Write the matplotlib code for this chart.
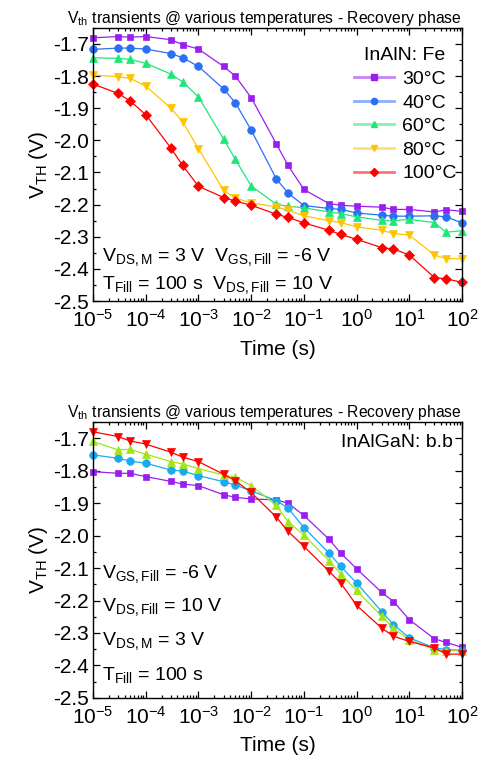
import numpy as np
import matplotlib
matplotlib.use("Agg")
import matplotlib.pyplot as plt
from matplotlib.lines import Line2D
from matplotlib.ticker import LogLocator, LogFormatterMathtext, MultipleLocator, NullFormatter
from matplotlib.colors import to_rgb

plt.rcParams['font.family'] = ['Liberation Sans', 'DejaVu Sans']
plt.rcParams['mathtext.fontset'] = 'custom'
plt.rcParams['mathtext.rm'] = 'Liberation Sans'
plt.rcParams['mathtext.it'] = 'Liberation Sans:italic'
plt.rcParams['mathtext.bf'] = 'Liberation Sans:bold'
plt.rcParams['axes.unicode_minus'] = False

# ---------------- data ----------------
time_s = [1e-5, 3e-5, 5e-5, 1e-4, 3e-4, 5e-4, 1e-3, 3e-3, 5e-3, 1e-2, 3e-2, 5e-2,
          1e-1, 3e-1, 5e-1, 1, 3, 5, 10, 30, 50, 100]

temps = ['30°C', '40°C', '60°C', '80°C', '100°C']

# Top panel: InAlN: Fe
top_30 = [-1.681, -1.677, -1.679, -1.677, -1.687, -1.702, -1.716, -1.770, -1.800, -1.867, -2.011, -2.078,
          -2.153, -2.197, -2.202, -2.205, -2.208, -2.215, -2.215, -2.223, -2.216, -2.221]
top_40 = [-1.717, -1.713, -1.713, -1.716, -1.730, -1.743, -1.770, -1.840, -1.883, -1.968, -2.120, -2.164,
          -2.203, -2.212, -2.215, -2.226, -2.233, -2.236, -2.236, -2.235, -2.238, -2.257]
top_60 = [-1.743, -1.745, -1.748, -1.760, -1.794, -1.818, -1.865, -1.996, -2.059, -2.142, -2.199, -2.205,
          -2.210, -2.223, -2.228, -2.238, -2.249, -2.250, -2.246, -2.256, -2.286, -2.281]
top_80 = [-1.797, -1.802, -1.807, -1.831, -1.900, -1.942, -2.026, -2.156, -2.179, -2.195, -2.207, -2.218,
          -2.235, -2.250, -2.256, -2.269, -2.280, -2.290, -2.295, -2.357, -2.368, -2.369]
top_100 = [-1.825, -1.854, -1.877, -1.920, -2.024, -2.078, -2.143, -2.178, -2.189, -2.202, -2.230, -2.240,
           -2.257, -2.280, -2.293, -2.308, -2.334, -2.338, -2.357, -2.427, -2.431, -2.442]

# Bottom panel: InAlGaN: b.b
bot_30 = [-1.803, -1.808, -1.808, -1.818, -1.833, -1.841, -1.846, -1.874, -1.882, -1.887, -1.890, -1.900,
          -1.938, -2.011, -2.054, -2.102, -2.175, -2.203, -2.259, -2.318, -2.329, -2.344]
bot_40 = [-1.751, -1.762, -1.770, -1.777, -1.798, -1.801, -1.815, -1.834, -1.844, -1.862, -1.892, -1.915,
          -1.975, -2.054, -2.095, -2.146, -2.234, -2.274, -2.315, -2.346, -2.351, -2.353]
bot_60 = [-1.710, -1.736, -1.734, -1.749, -1.772, -1.779, -1.794, -1.813, -1.820, -1.846, -1.907, -1.957,
          -1.998, -2.077, -2.118, -2.169, -2.249, -2.285, -2.321, -2.351, -2.355, -2.355]
bot_100 = [-1.680, -1.695, -1.708, -1.718, -1.743, -1.758, -1.772, -1.811, -1.831, -1.867, -1.943, -1.987,
           -2.033, -2.110, -2.146, -2.215, -2.285, -2.310, -2.326, -2.346, -2.365, -2.365]

top_series = [top_30, top_40, top_60, top_80, top_100]
top_colors = ['#9B1EF0', '#2B6FF5', '#1EE678', '#FFC400', '#FF0000']
top_markers = ['s', 'o', '^', 'v', 'D']
top_msizes = [5, 5.5, 5.5, 5.5, 5]

bot_series = [bot_30, bot_40, bot_60, bot_100]
bot_colors = ['#9B1EF0', '#1AAAF0', '#A0E614', '#FF0000']
bot_markers = ['s', 'o', '^', 'v']
bot_msizes = [5, 5.5, 5.5, 5.5]

title = r'$\mathregular{V_{th}}$ transients @ various temperatures - Recovery phase'

fig = plt.figure(figsize=(4.78, 7.63), dpi=100)
ax1 = fig.add_axes([0.1946, 0.6055, 0.772, 0.358])
ax2 = fig.add_axes([0.1946, 0.0853, 0.772, 0.3616])


def style_axis(ax):
    ax.set_xscale('log')
    ax.set_xlim(1e-5, 1e2)
    ax.set_ylim(-2.5, -1.65)
    ax.xaxis.set_major_locator(LogLocator(base=10, numticks=20))
    ax.xaxis.set_minor_locator(LogLocator(base=10, subs=np.arange(2, 10), numticks=20))
    ax.xaxis.set_major_formatter(LogFormatterMathtext())
    ax.xaxis.set_minor_formatter(NullFormatter())
    ax.yaxis.set_major_locator(MultipleLocator(0.1))
    ax.yaxis.set_minor_locator(MultipleLocator(0.05))
    ax.yaxis.set_major_formatter(plt.FuncFormatter(lambda v, p: f'{v:.1f}'))
    ax.tick_params(which='both', direction='in', top=True, right=True, width=0.9)
    ax.tick_params(which='major', length=5, labelsize=15)
    ax.tick_params(axis='x', which='major', pad=6)
    ax.tick_params(axis='y', which='major', pad=3)
    ax.tick_params(which='minor', length=2.5)
    for s in ax.spines.values():
        s.set_linewidth(1.0)
    ax.set_xlabel('Time (s)', fontsize=15, labelpad=6)
    ax.set_ylabel(r'$\mathregular{V_{TH}}$ (V)', fontsize=15, labelpad=2)
    t = ax.set_title(title, fontsize=11.3, pad=3)
    t.set_x(0.465)


style_axis(ax1)
style_axis(ax2)


def lighten(c, f=0.45):
    r, g, b = to_rgb(c)
    return (r + (1 - r) * f, g + (1 - g) * f, b + (1 - b) * f)


handles = []
for ys, c, m, ms, lab in zip(top_series, top_colors, top_markers, top_msizes, temps):
    ax1.plot(time_s, ys, color=c, marker=m, markersize=ms, lw=0.9, markeredgewidth=0.5, clip_on=False)
    handles.append(Line2D([], [], color=lighten(c), lw=2, marker=m, markersize=ms - 1,
                          markerfacecolor=c, markeredgecolor=c, label=lab))

leg = ax1.legend(handles=handles, title='InAlN: Fe', loc='upper right', frameon=False,
                 fontsize=14, title_fontsize=14, handlelength=2.1, handletextpad=0.4,
                 labelspacing=0.31, borderaxespad=0.6, bbox_to_anchor=(1.038, 1.0))

ax1.text(0.025, 0.16, r'$\mathregular{V_{DS,M}}$ = 3 V  $\mathregular{V_{GS,Fill}}$ = -6 V',
         transform=ax1.transAxes, fontsize=14, va='center', ha='left')
ax1.text(0.025, 0.06, r'$\mathregular{T_{Fill}}$ = 100 s  $\mathregular{V_{DS,Fill}}$ = 10 V',
         transform=ax1.transAxes, fontsize=14, va='center', ha='left')

for ys, c, m, ms in zip(bot_series, bot_colors, bot_markers, bot_msizes):
    ax2.plot(time_s, ys, color=c, marker=m, markersize=ms, lw=0.9, markeredgewidth=0.5, clip_on=False)

ax2.text(0.975, 0.955, 'InAlGaN: b.b', transform=ax2.transAxes, fontsize=14, va='top', ha='right')
bot_notes = [r'$\mathregular{V_{GS,Fill}}$ = -6 V', r'$\mathregular{V_{DS,Fill}}$ = 10 V',
             r'$\mathregular{V_{DS,M}}$ = 3 V', r'$\mathregular{T_{Fill}}$ = 100 s']
for i, t in enumerate(bot_notes):
    ax2.text(0.025, 0.45 - i * 0.122, t, transform=ax2.transAxes, fontsize=14, va='center', ha='left')

fig.savefig('out.png', dpi=100)
